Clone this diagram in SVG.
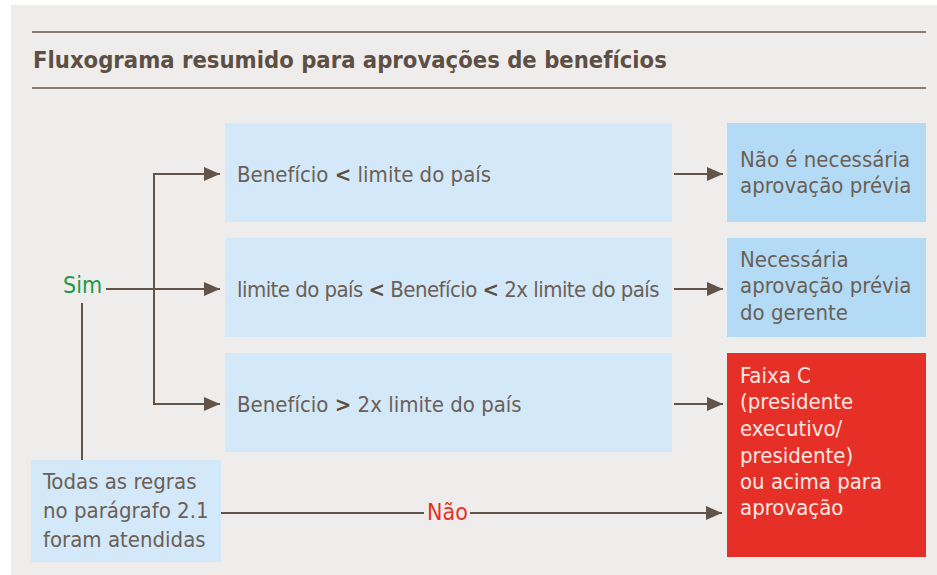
<svg xmlns="http://www.w3.org/2000/svg" width="937" height="575" viewBox="0 0 937 575">
<style>
.t{font-family:"Liberation Sans Narrow","DejaVu Sans Condensed","Liberation Sans",sans-serif;font-size:22px;fill:#6b5f57}
.w{fill:#fbe6e2}
.b{font-weight:bold;fill:#5e4f44}
.rule{stroke:#8a7c71;stroke-width:2}
.ln{stroke:#63544a;stroke-width:2;fill:none}
.lb{fill:#d3e8f8}
.db{fill:#b3dbf5}
</style>
<defs>
<marker id="ar" viewBox="0 0 16 14" refX="16" refY="7" markerWidth="16" markerHeight="14" markerUnits="userSpaceOnUse" orient="auto">
<path d="M0,0 L16,7 L0,14 z" fill="#63544a"/>
</marker>
</defs>
<rect x="11" y="5" width="926" height="570" fill="#efedeb"/>
<line class="rule" x1="32" y1="32" x2="926" y2="32"/>
<line class="rule" x1="32" y1="88" x2="926" y2="88"/>
<text class="t b" x="33" y="68" style="font-size:23.6px">Fluxograma resumido para aprovações de benefícios</text>

<g id="connectors">
<line class="ln" x1="106" y1="289" x2="220" y2="289" marker-end="url(#ar)"/>
<path class="ln" d="M220,174 H154 V404 H220" marker-end="url(#ar)"/>
<line class="ln" x1="154" y1="174" x2="220" y2="174" marker-end="url(#ar)"/>
<line class="ln" x1="82" y1="303" x2="82" y2="460"/>
<line class="ln" x1="674" y1="174" x2="723" y2="174" marker-end="url(#ar)"/>
<line class="ln" x1="674" y1="289" x2="723" y2="289" marker-end="url(#ar)"/>
<line class="ln" x1="674" y1="404" x2="723" y2="404" marker-end="url(#ar)"/>
<line class="ln" x1="221" y1="513" x2="424" y2="513"/>
<line class="ln" x1="470" y1="513" x2="722" y2="513" marker-end="url(#ar)"/>
<text class="t" x="63" y="293" style="fill:#1a9a4a;font-size:23px">Sim</text>
<text class="t" x="427" y="520" style="fill:#e63027;font-size:23px">Não</text>
</g>

<g id="b1"><rect class="lb" x="225" y="123" width="447" height="99"/>
<text class="t" x="237" y="182">Benefício <tspan class="b">&lt;</tspan> limite do país</text></g>
<g id="b2"><rect class="lb" x="225" y="238" width="447" height="99"/>
<text class="t" x="237" y="297" style="letter-spacing:-0.55px">limite do país <tspan class="b">&lt;</tspan> Benefício <tspan class="b">&lt;</tspan> 2x limite do país</text></g>
<g id="b3"><rect class="lb" x="225" y="353" width="447" height="99"/>
<text class="t" x="237" y="412">Benefício <tspan class="b">&gt;</tspan> 2x limite do país</text></g>

<g id="r1"><rect class="db" x="727" y="123" width="199" height="99"/>
<text class="t" x="740"><tspan x="740" y="167">Não é necessária</tspan><tspan x="740" y="193">aprovação prévia</tspan></text></g>
<g id="r2"><rect class="db" x="727" y="238" width="199" height="99"/>
<text class="t" x="740"><tspan x="740" y="267">Necessária</tspan><tspan x="740" y="293">aprovação prévia</tspan><tspan x="740" y="320">do gerente</tspan></text></g>
<g id="r3"><rect x="727" y="353" width="199" height="204" fill="#e63027"/>
<text class="t w" x="740"><tspan x="740" y="383">Faixa C</tspan><tspan x="740" y="409">(presidente</tspan><tspan x="740" y="436">executivo/</tspan><tspan x="740" y="463">presidente)</tspan><tspan x="740" y="489">ou acima para</tspan><tspan x="740" y="515">aprovação</tspan></text></g>

<g id="start"><rect class="lb" x="31" y="460" width="190" height="102"/>
<text class="t" x="43"><tspan x="43" y="489">Todas as regras</tspan><tspan x="43" y="518">no parágrafo 2.1</tspan><tspan x="43" y="547">foram atendidas</tspan></text></g>
</svg>
